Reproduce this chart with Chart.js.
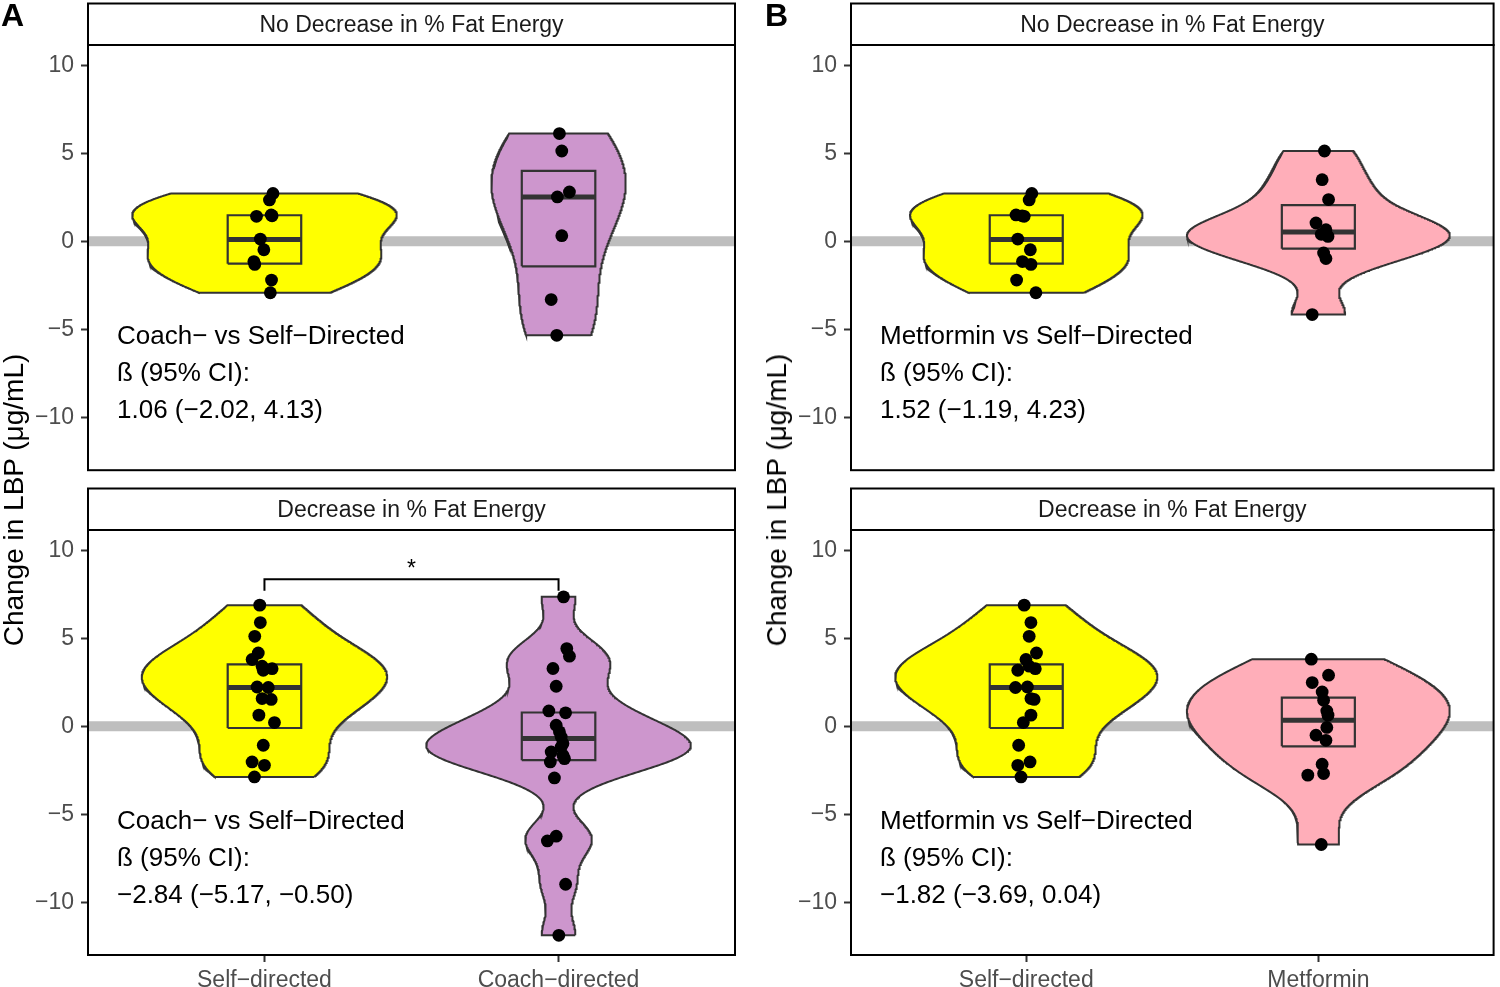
<!DOCTYPE html>
<html><head><meta charset="utf-8">
<script src="https://cdn.jsdelivr.net/npm/chart.js@4.4.1/dist/chart.umd.min.js"></script>
<style>
body{margin:0;width:1500px;height:987px;background:#fff;position:relative;overflow:hidden;font-family:"Liberation Sans",Arial,sans-serif;}
.p{position:absolute;}
.ytitle{position:absolute;font-size:28px;color:#000;white-space:nowrap;transform:translate(-50%,-50%) rotate(-90deg);line-height:1;}
.lab{position:absolute;font-weight:bold;font-size:32px;line-height:32px;color:#000;}
</style></head><body>
<div class="p" style="left:0;top:0;width:750px;height:491px"><canvas id="cA1" width="750" height="491"></canvas></div>
<div class="p" style="left:0;top:480px;width:750px;height:507px"><canvas id="cA2" width="750" height="507"></canvas></div>
<div class="p" style="left:763px;top:0;width:737px;height:491px"><canvas id="cB1" width="737" height="491"></canvas></div>
<div class="p" style="left:763px;top:480px;width:737px;height:507px"><canvas id="cB2" width="737" height="507"></canvas></div>
<div class="ytitle" style="left:14px;top:500px">Change in LBP (μg/mL)</div>
<div class="ytitle" style="left:777px;top:500px">Change in LBP (μg/mL)</div>
<div class="lab" style="left:1px;top:-1px">A</div>
<div class="lab" style="left:765px;top:-1px">B</div>
<script>
// ---------- data ----------
const yTicks = [-10, -5, 0, 5, 10];
const yTickLabels = ['−10', '−5', '0', '5', '10'];
const yMin = -13.0, yMax = 11.15;
const catsA = ['Self−directed', 'Coach−directed'];
const catsB = ['Self−directed', 'Metformin'];
const stripLabels = ['No Decrease in % Fat Energy', 'Decrease in % Fat Energy'];

// Self-directed, no decrease in % fat energy
const selfTopY = [2.72, 2.35, 1.5, 1.45, 1.42, 0.13, -0.48, -1.15, -1.31, -2.2, -2.92];
const selfTopJitA = [0.029, 0.017, 0.023, 0.026, -0.027, -0.014, -0.002, -0.036, -0.033, 0.024, 0.020];
const selfTopJitB = [0.019, 0.010, -0.035, -0.014, -0.007, -0.029, 0.014, -0.013, 0.016, -0.033, 0.033];
const selfTopBox = [-1.27, 0.11, 1.48];

// Coach-directed, no decrease
const coachTopY = [6.12, 5.13, 2.8, 2.52, 0.32, -3.31, -5.34];
const coachTopJit = [0.003, 0.011, 0.037, -0.004, 0.011, -0.025, -0.006];
const coachTopBox = [-1.42, 2.52, 4.0];

// Self-directed, decrease
const selfBotY = [6.88, 5.89, 5.11, 4.16, 3.79, 3.41, 3.27, 3.18, 2.23, 2.20, 1.57, 1.52, 0.63, 0.21, -1.08, -2.03, -2.22, -2.88];
const selfBotJitA = [-0.016, -0.014, -0.033, -0.021, -0.042, -0.008, 0.026, -0.004, -0.025, 0.013, -0.008, 0.023, -0.019, 0.034, -0.004, -0.042, 0, -0.034];
const selfBotJitB = [-0.007, 0.016, 0.010, 0.035, -0.001, 0.010, 0.031, -0.029, 0.004, -0.037, 0.016, 0.027, 0.016, -0.010, -0.026, 0.013, -0.029, -0.018];
const selfBotBox = [-0.1, 2.2, 3.52];

// Coach-directed, decrease
const coachBotY = [7.35, 4.41, 3.98, 3.28, 2.27, 0.87, 0.76, 0.06, -0.32, -0.61, -0.98, -1.18, -1.46, -1.65, -1.84, -2.03, -2.94, -6.25, -6.52, -8.98, -11.88];
const coachBotJit = [0.017, 0.028, 0.037, -0.019, -0.008, -0.033, 0.024, -0.008, 0.003, 0.009, 0.015, 0.009, -0.025, 0.015, 0.020, -0.028, -0.014, -0.008, -0.038, 0.024, 0.001];
const coachBotBox = [-1.93, -0.70, 0.78];

// Metformin, no decrease
const metTopY = [5.13, 3.5, 2.37, 1.04, 0.66, 0.40, 0.28, -0.66, -0.98, -4.16];
const metTopJit = [0.021, 0.013, 0.035, -0.008, 0.026, 0.010, 0.033, 0.018, 0.026, -0.021];
const metTopBox = [-0.42, 0.53, 2.05];

// Metformin, decrease
const metBotY = [3.81, 2.9, 2.48, 1.95, 1.48, 0.87, 0.63, -0.07, -0.51, -0.80, -2.16, -2.69, -2.78, -6.72];
const metBotJit = [-0.024, 0.035, -0.021, 0.013, 0.018, 0.029, 0.033, 0.029, -0.008, 0.026, 0.013, 0.018, -0.036, 0.010];
const metBotBox = [-1.14, 0.34, 1.63];

// estimates text
const textA1 = ['Coach− vs Self−Directed', 'ß (95% CI):', '1.06 (−2.02, 4.13)'];
const textA2 = ['Coach− vs Self−Directed', 'ß (95% CI):', '−2.84 (−5.17, −0.50)'];
const textB1 = ['Metformin vs Self−Directed', 'ß (95% CI):', '1.52 (−1.19, 4.23)'];
const textB2 = ['Metformin vs Self−Directed', 'ß (95% CI):', '−1.82 (−3.69, 0.04)'];
const signifA2 = {from: 1, to: 2, y: 8.35, drop: 0.65, label: '*'};

// ---------- helpers ----------
const FONT = '"Liberation Sans", Arial, sans-serif';
const COL = {self: '#FFFF00', coach: '#CD96CD', met: '#FFAEB9'};

function q7(s, p) { const h = (s.length - 1) * p, lo = Math.floor(h), hi = Math.min(lo + 1, s.length - 1); return s[lo] + (h - lo) * (s[hi] - s[lo]); }
function bwNrd0(v) {
  const n = v.length, s = [...v].sort((a, b) => a - b);
  const m = v.reduce((a, b) => a + b, 0) / n;
  const sd = Math.sqrt(v.reduce((a, b) => a + (b - m) * (b - m), 0) / (n - 1));
  let lo = Math.min(sd, (q7(s, 0.75) - q7(s, 0.25)) / 1.34);
  if (!(lo > 0)) lo = sd || 1;
  return 0.9 * lo * Math.pow(n, -0.2);
}
function kde(v) {
  const bw = bwNrd0(v), lo = Math.min(...v), hi = Math.max(...v), N = 512, n = v.length;
  const ys = [], ds = [];
  for (let i = 0; i < N; i++) {
    const y = lo + (hi - lo) * i / (N - 1);
    let d = 0;
    for (const vi of v) { const z = (y - vi) / bw; d += Math.exp(-0.5 * z * z); }
    ys.push(y); ds.push(d / (n * bw * Math.sqrt(2 * Math.PI)));
  }
  return {ys, ds};
}

const panelPlugin = {
  id: 'panelDeco',
  afterDraw(chart, args, o) {
    const ctx = chart.ctx, ca = chart.chartArea;
    const xs = chart.scales.x, ys = chart.scales.y;
    ctx.save();
    // panel border
    ctx.strokeStyle = '#000'; ctx.lineWidth = 2;
    ctx.strokeRect(ca.left, ca.top, ca.right - ca.left, ca.bottom - ca.top);
    // strip
    ctx.fillStyle = '#fff';
    ctx.fillRect(ca.left, ca.top - 42, ca.right - ca.left, 42);
    ctx.strokeRect(ca.left, ca.top - 41.5, ca.right - ca.left, 41.5);
    ctx.fillStyle = '#1a1a1a'; ctx.font = '23px ' + FONT;
    ctx.textAlign = 'center'; ctx.textBaseline = 'middle';
    ctx.fillText(o.strip, (ca.left + ca.right) / 2, ca.top - 19);
    // estimates
    ctx.fillStyle = '#000'; ctx.font = '26px ' + FONT; ctx.textAlign = 'left';
    o.lines.forEach((t, i) => ctx.fillText(t, ca.left + 29, ca.top + 292 + i * 37));
    // significance bracket
    if (o.sig) {
      const x1 = xs.getPixelForValue(o.sig.from), x2 = xs.getPixelForValue(o.sig.to);
      const yb = ys.getPixelForValue(o.sig.y), yd = ys.getPixelForValue(o.sig.y - o.sig.drop);
      ctx.lineWidth = 2; ctx.strokeStyle = '#000';
      ctx.beginPath(); ctx.moveTo(x1, yd); ctx.lineTo(x1, yb); ctx.lineTo(x2, yb); ctx.lineTo(x2, yd); ctx.stroke();
      ctx.font = '23px ' + FONT; ctx.textAlign = 'center'; ctx.textBaseline = 'alphabetic';
      ctx.fillText(o.sig.label, (x1 + x2) / 2, yb - 3);
    }
    ctx.restore();
  }
};

function buildPanel(id, groups, cats, showX, deco, padRight) {
  const dens = groups.map(g => kde(g.y));
  const maxD = Math.max(...dens.map(d => Math.max(...d.ds)));
  const datasets = [];
  datasets.push({data: [{x: 0.4, y: 0}, {x: 2.6, y: 0}], showLine: true, borderColor: '#bebebe', borderWidth: 10, pointRadius: 0, order: 10});
  groups.forEach((g, gi) => {
    const d = dens[gi], poly = [];
    for (let i = 0; i < d.ys.length; i++) poly.push({x: g.pos + 0.45 * d.ds[i] / maxD, y: d.ys[i]});
    for (let i = d.ys.length - 1; i >= 0; i--) poly.push({x: g.pos - 0.45 * d.ds[i] / maxD, y: d.ys[i]});
    poly.push({x: poly[0].x, y: poly[0].y});
    datasets.push({data: poly, showLine: true, fill: 'shape', backgroundColor: g.color, borderColor: '#333333', borderWidth: 2, pointRadius: 0, order: 8});
    const [q1, med, q3] = g.box, hw = 0.125;
    datasets.push({data: [{x: g.pos - hw, y: q1}, {x: g.pos + hw, y: q1}, {x: g.pos + hw, y: q3}, {x: g.pos - hw, y: q3}, {x: g.pos - hw, y: q1}],
      showLine: true, fill: false, borderColor: '#333333', borderWidth: 2.2, pointRadius: 0, order: 6});
    datasets.push({data: [{x: g.pos - hw, y: med}, {x: g.pos + hw, y: med}], showLine: true, borderColor: '#333333', borderWidth: 5, borderCapStyle: 'butt', pointRadius: 0, order: 5});
    datasets.push({data: g.y.map((v, i) => ({x: g.pos + g.jit[i], y: v})), showLine: false, pointRadius: 6.4, pointHoverRadius: 6.4,
      pointBackgroundColor: '#000', pointBorderWidth: 0, order: 1});
  });
  const gridOpt = {drawOnChartArea: false, drawTicks: true, tickLength: 7, tickColor: '#333333', tickWidth: 2};
  new Chart(document.getElementById(id), {
    type: 'scatter',
    data: {datasets},
    options: {
      responsive: false, animation: false, devicePixelRatio: 1,
      layout: {padding: {top: showX ? 50 : 45, right: padRight, bottom: showX ? 0 : 10, left: 0}},
      plugins: {legend: {display: false}, tooltip: {enabled: false}, panelDeco: deco},
      elements: {line: {tension: 0}},
      scales: {
        x: {type: 'linear', min: 0.4, max: 2.6, display: showX,
          afterBuildTicks: s => { s.ticks = [{value: 1}, {value: 2}]; },
          afterFit: s => { s.height = showX ? 32 : 0; },
          ticks: {callback: (v, i) => cats[i], font: {size: 23, family: FONT}, color: '#4d4d4d', padding: 5, maxRotation: 0, minRotation: 0, autoSkip: false},
          grid: gridOpt, border: {display: false}},
        y: {type: 'linear', min: yMin, max: yMax,
          afterBuildTicks: s => { s.ticks = yTicks.map(v => ({value: v})); },
          afterFit: s => { s.width = 88; },
          ticks: {callback: (v, i) => yTickLabels[i], font: {size: 23, family: FONT}, color: '#4d4d4d', padding: 7},
          grid: gridOpt, border: {display: false}}
      }
    },
    plugins: [panelPlugin]
  });
}

buildPanel('cA1', [
  {pos: 1, y: selfTopY, jit: selfTopJitA, box: selfTopBox, color: COL.self},
  {pos: 2, y: coachTopY, jit: coachTopJit, box: coachTopBox, color: COL.coach}
], catsA, false, {strip: stripLabels[0], lines: textA1}, 15);
buildPanel('cA2', [
  {pos: 1, y: selfBotY, jit: selfBotJitA, box: selfBotBox, color: COL.self},
  {pos: 2, y: coachBotY, jit: coachBotJit, box: coachBotBox, color: COL.coach}
], catsA, true, {strip: stripLabels[1], lines: textA2, sig: signifA2}, 15);
buildPanel('cB1', [
  {pos: 1, y: selfTopY, jit: selfTopJitB, box: selfTopBox, color: COL.self},
  {pos: 2, y: metTopY, jit: metTopJit, box: metTopBox, color: COL.met}
], catsB, false, {strip: stripLabels[0], lines: textB1}, 3);
buildPanel('cB2', [
  {pos: 1, y: selfBotY, jit: selfBotJitB, box: selfBotBox, color: COL.self},
  {pos: 2, y: metBotY, jit: metBotJit, box: metBotBox, color: COL.met}
], catsB, true, {strip: stripLabels[1], lines: textB2}, 3);
</script>
</body></html>
